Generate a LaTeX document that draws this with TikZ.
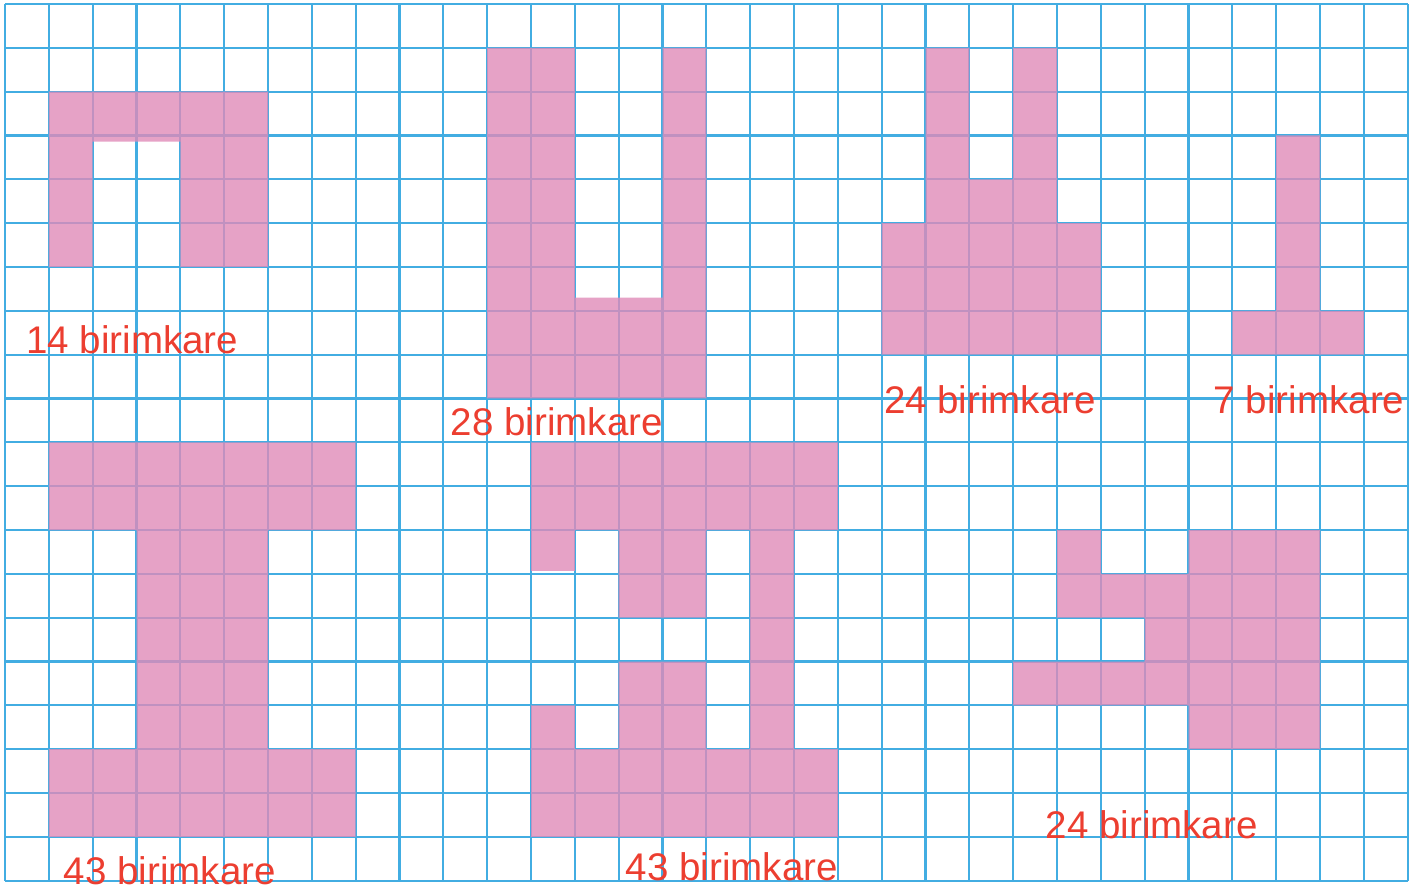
\documentclass[tikz,border=0pt]{standalone}
\usepackage{fontspec}
\newfontfamily\handfont{Liberation Sans}
\usepackage{tikz}
\usetikzlibrary{positioning}

\definecolor{gridblue}{RGB}{66,173,226}
\definecolor{shapepink}{RGB}{224,139,184}
\definecolor{penred}{RGB}{236,62,48}

\tikzset{
    pinkcells/.style={fill=shapepink, fill opacity=0.8},
    area/.style={text=penred, font=\handfont\fontsize{12.5}{15}\selectfont, inner sep=0pt}
}

\begin{document}
\begin{tikzpicture}[x=0.5cm, y=0.5cm]

        \useasboundingbox (-0.114,-0.32) rectangle (32.28,20.091);

        % Draw grid
        \draw[step=1, gridblue, line width=0.7pt] (0,0) grid (32,20);

        % Shape 1 (14)
        \fill[pinkcells] (1,14) -- (1,18) -- (6,18) -- (6,14) -- (4,14) -- (4,16.86)
            -- (2,16.86) -- (2,14) -- cycle;

        % Shape 2 (28)
        \fill[pinkcells] (11,11) -- (11,19) -- (13,19) -- (13,13.3) -- (15,13.3)
            -- (15,19) -- (16,19) -- (16,11) -- cycle;

        % Shape 3 (24)
        \fill[pinkcells] (20,12) -- (20,15) -- (21,15) -- (21,19) -- (22,19) -- (22,16)
            -- (23,16) -- (23,19) -- (24,19) -- (24,15) -- (25,15) -- (25,12) -- cycle;

        % Shape 4 (7)
        \fill[pinkcells] (28,12) -- (28,13) -- (29,13) -- (29,17) -- (30,17) -- (30,13)
            -- (31,13) -- (31,12) -- cycle;

        % Shape 5 (43)
        \fill[pinkcells] (1,1) -- (1,3) -- (3,3) -- (3,8) -- (1,8) -- (1,10) -- (8,10)
            -- (8,8) -- (6,8) -- (6,3) -- (8,3) -- (8,1) -- cycle;

        % Shape 6 (43)
        \fill[pinkcells] (12,8) rectangle (19,10)
            (12,7.07) rectangle (13,8)
            (14,6) rectangle (16,8)
            (17,1) rectangle (18,8)
            (12,1) rectangle (19,3)
            (12,3) rectangle (13,4)
            (14,3) rectangle (16,5);

        % Shape 7 (24)
        \fill[pinkcells] (24,6) rectangle (25,8)
            (25,6) rectangle (27,7)
            (26,5) rectangle (27,6)
            (27,3) rectangle (30,8)
            (23,4) rectangle (27,5);

        % Labels
        \node[area] (a14) at (2.9,12.34) {14 birimkare};
        \node[area] (a28) at (12.59,10.47) {28 birimkare};
        \node[area] (a24top) at (22.47,10.97) {24 birimkare};
        \node[area] (a7) at (29.75,10.97) {7 birimkare};
        \node[area] (a43left) at (3.76,0.22) {43 birimkare};
        \node[area] (a43mid) at (16.58,0.32) {43 birimkare};
        \node[area] (a24bot) at (26.16,1.27) {24 birimkare};

    \end{tikzpicture}
\end{document}
